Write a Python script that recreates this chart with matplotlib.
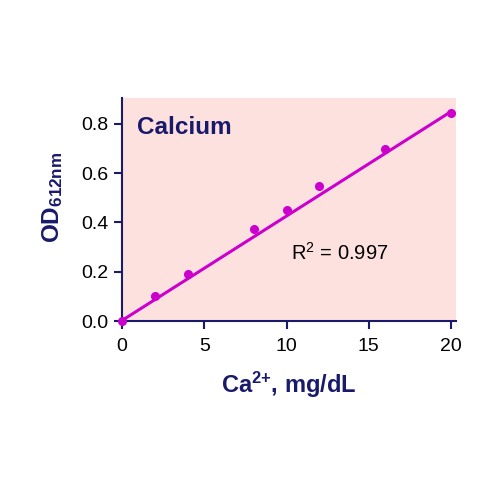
import matplotlib
matplotlib.use("Agg")
import matplotlib.pyplot as plt

# Calcium standard curve
conc = [0, 2, 4, 8, 10, 12, 16, 20]
od = [0.0, 0.10, 0.19, 0.375, 0.449, 0.546, 0.70, 0.846]
# regression line as drawn in the figure
fit_conc = [0, 20]
fit_od = [0.002, 0.85]
x_ticks = [0, 5, 10, 15, 20]
y_ticks = [0.0, 0.2, 0.4, 0.6, 0.8]
r2_label = "R$^2$ = 0.997"

navy = "#1a1a6b"
magenta = "#cc00cc"

plt.rcParams["font.family"] = ["Liberation Sans", "DejaVu Sans"]
plt.rcParams["mathtext.fontset"] = "custom"
plt.rcParams["mathtext.rm"] = "Liberation Sans"
plt.rcParams["mathtext.it"] = "Liberation Sans"
plt.rcParams["mathtext.bf"] = "Liberation Sans:bold"

fig = plt.figure(figsize=(5, 5), dpi=100)
ax = fig.add_axes([0.244, 0.358, 0.668, 0.446])
ax.set_facecolor("#fde1de")

ax.plot(fit_conc, fit_od, color=magenta, lw=2.2, zorder=2)
ax.plot(conc, od, "o", color=magenta, ms=5.5, zorder=3, clip_on=False)

ax.set_xlim(0, 20.3)
ax.set_ylim(0, 0.905)
ax.set_xticks(x_ticks)
ax.set_yticks(y_ticks)
ax.set_xticklabels([str(t) for t in x_ticks])
ax.set_yticklabels([f"{t:.1f}" for t in y_ticks])

for side in ["top", "right"]:
    ax.spines[side].set_visible(False)
for side in ["left", "bottom"]:
    ax.spines[side].set_color(navy)
    ax.spines[side].set_linewidth(1.5)
ax.tick_params(axis="both", colors=navy, labelcolor="black", labelsize=14,
               length=6, width=1.5, direction="out")
ax.tick_params(axis="x", pad=6)

ax.set_xlabel(r"Ca$^{\mathbf{2{+}}}$, mg/dL", color=navy, fontsize=17,
              fontweight="bold", va="center")
ax.xaxis.set_label_coords(0.5, -0.287)
ax.set_ylabel(r"OD$_{\mathbf{612nm}}$", color=navy, fontsize=17.5,
              fontweight="bold", va="center")
ax.yaxis.set_label_coords(-0.208, 0.556)

ax.text(0.9, 0.785, "Calcium", color=navy, fontsize=17.5, fontweight="bold",
        va="center", ha="left")
ax.text(10.3, 0.275, r2_label, color="black", fontsize=14.5, va="center",
        ha="left")

fig.savefig("out.png", dpi=100)
